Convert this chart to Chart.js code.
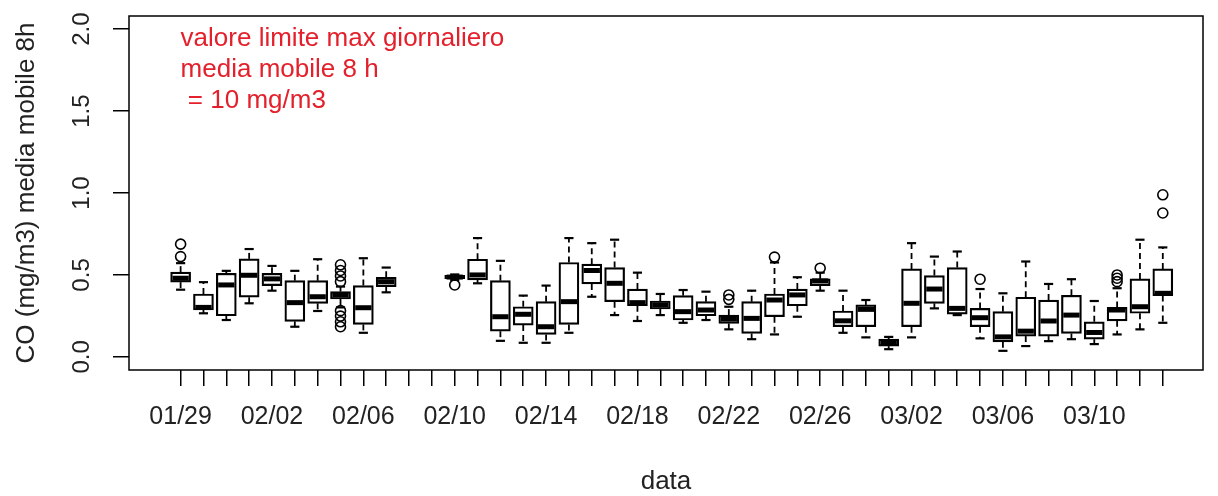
<!DOCTYPE html>
<html>
<head>
<meta charset="utf-8">
<script src="https://cdn.jsdelivr.net/npm/chart.js@4"></script>
<style>
  html, body { margin: 0; background: #fff; }
</style>
</head>
<body>
<canvas id="myChart" width="1218" height="496"></canvas>
<script>
// CO, media mobile 8h: one box per day (null = no data that day)
const days = ["01/29", "01/30", "01/31", "02/01", "02/02", "02/03", "02/04", "02/05", "02/06", "02/07",
  "02/08", "02/09", "02/10", "02/11", "02/12", "02/13", "02/14", "02/15", "02/16", "02/17",
  "02/18", "02/19", "02/20", "02/21", "02/22", "02/23", "02/24", "02/25", "02/26", "02/27",
  "02/28", "03/01", "03/02", "03/03", "03/04", "03/05", "03/06", "03/07", "03/08", "03/09",
  "03/10", "03/11", "03/12", "03/13"];

const lower = [0.41, 0.266, 0.225, 0.327, 0.404, 0.184, 0.28, 0.302, 0.147, 0.394,
  null, null, 0.47, 0.449, 0.098, 0.086, 0.086, 0.147, 0.367, 0.255,
  0.219, 0.255, 0.208, 0.225, 0.168, 0.108, 0.137, 0.245, 0.404, 0.147,
  0.119, 0.047, 0.119, 0.296, 0.255, 0.113, 0.037, 0.066, 0.096, 0.108,
  0.078, 0.137, 0.168, 0.208];
const q1 = [0.456, 0.286, 0.251, 0.364, 0.435, 0.217, 0.327, 0.353, 0.198, 0.429,
  null, null, 0.478, 0.47, 0.157, 0.194, 0.137, 0.198, 0.445, 0.337,
  0.312, 0.292, 0.225, 0.251, 0.204, 0.143, 0.245, 0.312, 0.435, 0.184,
  0.184, 0.066, 0.184, 0.327, 0.261, 0.184, 0.092, 0.127, 0.127, 0.143,
  0.108, 0.22, 0.266, 0.374];
const median = [0.48, 0.302, 0.439, 0.498, 0.476, 0.331, 0.367, 0.378, 0.30, 0.459,
  null, null, 0.487, 0.50, 0.245, 0.26, 0.184, 0.337, 0.527, 0.449,
  0.331, 0.317, 0.276, 0.286, 0.231, 0.235, 0.347, 0.378, 0.464, 0.22,
  0.29, 0.086, 0.327, 0.414, 0.296, 0.239, 0.122, 0.157, 0.219, 0.255,
  0.149, 0.286, 0.306, 0.388];
const q3 = [0.517, 0.384, 0.51, 0.598, 0.51, 0.465, 0.465, 0.398, 0.435, 0.486,
  null, null, 0.497, 0.596, 0.465, 0.306, 0.337, 0.576, 0.566, 0.545,
  0.414, 0.341, 0.374, 0.337, 0.255, 0.337, 0.384, 0.414, 0.476, 0.28,
  0.317, 0.108, 0.537, 0.496, 0.545, 0.296, 0.276, 0.364, 0.347, 0.376,
  0.214, 0.302, 0.476, 0.537];
const upper = [0.572, 0.456, 0.525, 0.658, 0.555, 0.525, 0.596, 0.429, 0.602, 0.545,
  null, null, 0.503, 0.725, 0.586, 0.374, 0.435, 0.725, 0.694, 0.715,
  0.514, 0.384, 0.408, 0.398, 0.306, 0.404, 0.576, 0.486, 0.514, 0.404,
  0.347, 0.122, 0.694, 0.612, 0.643, 0.414, 0.388, 0.582, 0.445, 0.474,
  0.341, 0.419, 0.715, 0.668];
const outliers = [[0.688, 0.612], [], [], [], [], [], [], [0.562, 0.527, 0.494, 0.459, 0.282, 0.249, 0.214, 0.184], [], [],
  [], [], [0.439], [], [], [], [], [], [], [],
  [], [], [], [], [0.378, 0.351], [], [0.609], [], [0.541], [],
  [], [], [], [], [], [0.474], [], [], [], [],
  [], [0.5, 0.48, 0.459], [], [0.989, 0.878]];

const yTicks = [0, 0.5, 1, 1.5, 2];
const note = ["valore limite max giornaliero", "media mobile 8 h", " = 10 mg/m3"];

const FONT = '"Liberation Sans", Arial, sans-serif';

const boxData = days.map((d, i) => ({ x: i + 1, y: q1[i] == null ? null : [q1[i], q3[i]] }));
const outData = [];
outliers.forEach((list, i) => list.forEach(v => outData.push({ x: i + 1, y: v })));

// whiskers, caps, medians, frame and the rotated y labels
const boxPlot = {
  id: 'boxPlot',
  afterDatasetsDraw(chart) {
    const { ctx, scales: { x, y } } = chart;
    const half = x.getPixelForValue(1.4) - x.getPixelForValue(1);
    const cap = half / 2;
    const seg = (x1, y1, x2, y2) => { ctx.beginPath(); ctx.moveTo(x1, y1); ctx.lineTo(x2, y2); ctx.stroke(); };
    ctx.save();
    ctx.strokeStyle = '#000';
    days.forEach((d, i) => {
      if (median[i] == null) return;
      const px = x.getPixelForValue(i + 1);
      const yl = y.getPixelForValue(lower[i]), y1 = y.getPixelForValue(q1[i]);
      const y3 = y.getPixelForValue(q3[i]), yu = y.getPixelForValue(upper[i]);
      ctx.lineWidth = 1.8;
      ctx.setLineDash([6, 4]);
      if (yu < y3) seg(px, y3, px, yu);
      if (yl > y1) seg(px, y1, px, yl);
      ctx.setLineDash([]);
      ctx.lineWidth = 2.2;
      seg(px - cap, yu, px + cap, yu);
      seg(px - cap, yl, px + cap, yl);
      ctx.lineWidth = 5;
      const ym = y.getPixelForValue(median[i]);
      seg(px - half + 1, ym, px + half - 1, ym);
    });
    ctx.restore();
  },
  afterDraw(chart) {
    const { ctx, chartArea: a, scales: { x, y } } = chart;
    ctx.save();
    ctx.strokeStyle = '#000';
    ctx.lineWidth = 1.5;
    ctx.strokeRect(a.left, a.top, a.right - a.left, a.bottom - a.top);

    ctx.fillStyle = '#222';
    ctx.font = '24px ' + FONT;
    ctx.textAlign = 'center';
    ctx.textBaseline = 'middle';
    yTicks.forEach(v => {
      ctx.save();
      ctx.translate(a.left - 47, y.getPixelForValue(v));
      ctx.rotate(-Math.PI / 2);
      ctx.fillText(v.toFixed(1), 0, 0);
      ctx.restore();
    });

    // limit note in red, top left of the plot
    ctx.fillStyle = '#e3202b';
    ctx.font = '26px ' + FONT;
    ctx.textAlign = 'left';
    const tx = x.getPixelForValue(1), ty = y.getPixelForValue(1.75);
    note.forEach((t, k) => ctx.fillText(t, tx, ty + (k - 1) * 31));
    ctx.restore();
  }
};

new Chart(document.getElementById('myChart').getContext('2d'), {
  type: 'bar',
  data: {
    datasets: [{
      data: boxData,
      backgroundColor: '#fff',
      borderColor: '#000',
      borderWidth: 2.2,
      borderSkipped: false,
      barThickness: 20
    }, {
      type: 'scatter',
      data: outData,
      pointStyle: 'circle',
      pointRadius: 5,
      borderWidth: 1.6,
      borderColor: '#000',
      backgroundColor: 'rgba(0,0,0,0)'
    }]
  },
  options: {
    responsive: false,
    animation: false,
    layout: { padding: { top: 16, right: 15, left: 0, bottom: 0 } },
    plugins: { legend: { display: false }, tooltip: { enabled: false } },
    scales: {
      x: {
        type: 'linear',
        offset: false,
        min: -1.26,
        max: 45.76,
        afterBuildTicks: s => { s.ticks = days.map((d, i) => ({ value: i + 1 })); },
        afterFit: s => { s.height = 126; },
        ticks: {
          autoSkip: false,
          maxRotation: 0,
          padding: 16,
          color: '#222',
          font: { family: FONT, size: 25 },
          callback: v => ((v - 1) % 4 === 0 ? days[v - 1] : '')
        },
        grid: { offset: false, drawOnChartArea: false, tickLength: 16, color: '#000', lineWidth: 1.5 },
        border: { display: false },
        title: { display: true, text: 'data', color: '#222', font: { family: FONT, size: 26, lineHeight: 1 }, padding: { top: 0, bottom: 1 } }
      },
      y: {
        min: -0.08,
        max: 2.08,
        afterBuildTicks: s => { s.ticks = yTicks.map(v => ({ value: v })); },
        afterFit: s => { s.width = 129; },
        ticks: { display: false },
        grid: { drawOnChartArea: false, tickLength: 16, color: '#000', lineWidth: 1.5 },
        border: { display: false },
        title: { display: true, text: 'CO (mg/m3) media mobile 8h', color: '#222', font: { family: FONT, size: 26 }, padding: { top: 11 } }
      }
    }
  },
  plugins: [boxPlot]
});
</script>
</body>
</html>
